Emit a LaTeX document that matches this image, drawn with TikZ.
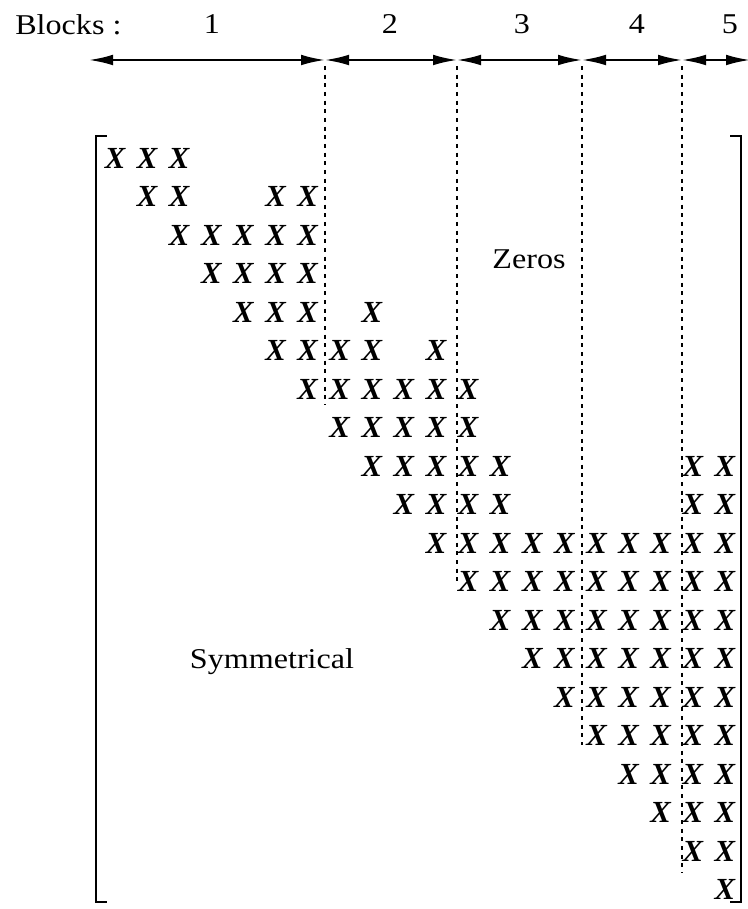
\documentclass[tikz,border=0pt]{standalone}
\usepackage{fontspec}
\setmainfont{Liberation Serif}
\usetikzlibrary{arrows.meta}

\begin{document}
\begin{tikzpicture}[x=0.75pt,y=-0.75pt,
  entry/.style={inner sep=0pt, font=\fontsize{23}{26}\selectfont\bfseries\itshape},
  caption/.style={inner sep=0pt, font=\fontsize{21.5}{24}\selectfont, xscale=1.12, transform shape},
  blockarrow/.style={line width=1.5pt, {Latex[length=18pt,width=8pt]}-{Latex[length=18pt,width=8pt]}},
  divider/.style={line width=1.7pt, dash pattern=on 3pt off 3.5pt},
  bracket/.style={line width=1.5pt}]
\useasboundingbox (0,0) rectangle (748,909);

% header
\node[caption, anchor=base west] (blocks) at (15,35) {Blocks :};
\foreach \k/\xx in {1/212, 2/390, 3/522, 4/637, 5/730}
  \node[caption, anchor=base] (bl\k) at (\xx,34) {\k};

% block extents along the scale
\foreach \k/\xx in {0/89, 1/325, 2/457, 3/582, 4/682, 5/750}
  \coordinate (a\k) at (\xx,60);
\foreach \p/\q in {0/1, 1/2, 2/3, 3/4, 4/5}
  \draw[blockarrow] (a\p) -- (a\q);

% vertical block dividers
\foreach \k/\xx/\yb in {1/325/405, 2/457/585, 3/582/745, 4/682/873} {
  \coordinate (d\k) at (\xx,66);
  \coordinate (b\k) at (\xx,\yb);
  \draw[divider] (d\k) -- (b\k);
}

% matrix brackets
\coordinate (lt) at (96,136);
\coordinate (lb) at (96,902);
\coordinate (rt) at (741,136);
\coordinate (rb) at (741,902);
\draw[bracket] ([xshift=8pt]lt) -- (lt) -- (lb) -- ([xshift=8pt]lb);
\draw[bracket] ([xshift=-8pt]rt) -- (rt) -- (rb) -- ([xshift=-8pt]rb);

% nonzero entries of the upper triangle
\foreach \r/\cl in {1/{1,2,3}, 2/{2,3,6,7}, 3/{3,4,5,6,7}, 4/{4,5,6,7},
                    5/{5,6,7,9}, 6/{6,7,8,9,11}, 7/{7,8,9,10,11,12},
                    8/{8,9,10,11,12}, 9/{9,10,11,12,13,19,20},
                    10/{10,11,12,13,19,20}} {
  \foreach \c in \cl
    \node[entry] (e\r-\c) at ({115+(\c-1)*32.1},{158+(\r-1)*38.5}) {X};
}
\foreach \r in {11,...,20} {
  \foreach \c in {\r,...,20}
    \node[entry] (e\r-\c) at ({115+(\c-1)*32.1},{158+(\r-1)*38.5}) {X};
}

% region labels
\node[caption, anchor=base] (zeros) at (529,268) {Zeros};
\node[caption, anchor=base] (sym) at (272,668) {Symmetrical};
\end{tikzpicture}
\end{document}
